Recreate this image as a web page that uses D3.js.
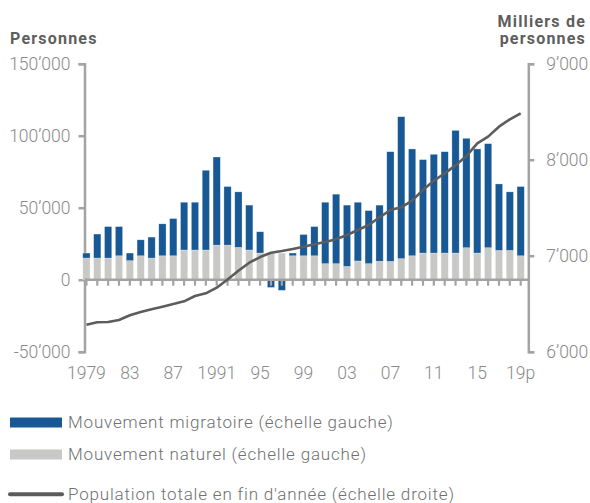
<!DOCTYPE html>
<html>
<head>
<meta charset="utf-8">
<script src="https://cdn.jsdelivr.net/npm/d3@7"></script>
<style>
  body { margin: 0; background: #fff; }
  text { font-family: Roboto, "Noto Sans", sans-serif; }
</style>
</head>
<body>
<div id="chart"></div>
<script>
// values (persons, population in thousands)
const years = d3.range(1979, 2020);
const natural = [15000, 15000, 15000, 16600, 13200, 16600, 15000, 16600, 16600, 20600,
  20600, 20600, 24000, 24000, 22400, 20600, 18500, 18900, 18500, 16600,
  16600, 16600, 11100, 11100, 9200, 13000, 11100, 12800, 12700, 14600,
  16600, 18500, 18500, 18500, 18500, 22200, 18500, 22200, 20300, 20300, 16600];
const migratory = [3500, 16700, 21900, 20300, 5300, 11100, 14600, 22200, 25900, 33200,
  33200, 55400, 61200, 40700, 38600, 31200, 14800, -5400, -7400, 1900,
  14800, 20300, 42700, 48300, 42600, 40800, 36900, 39000, 76200, 98600,
  74200, 64900, 68600, 70400, 85200, 76000, 72300, 72300, 46200, 40700, 48100];
const population = [6281, 6306, 6309, 6330, 6379, 6414, 6442, 6469, 6497, 6525,
  6580, 6608, 6667, 6752, 6844, 6927, 6986, 7031, 7049, 7070,
  7094, 7119, 7143, 7171, 7216, 7268, 7320, 7400, 7476, 7504,
  7573, 7684, 7781, 7858, 7941, 8038, 8170, 8240, 8344, 8420, 8483];
const xTickYears = [1979, 1983, 1987, 1991, 1995, 1999, 2003, 2007, 2011, 2015, 2019];
const xTickLabels = ["1979", "83", "87", "1991", "95", "99", "03", "07", "11", "15", "19p"];
const leftTicks = [-50000, 0, 50000, 100000, 150000];
const rightTicks = [6000, 7000, 8000, 9000];
const legendLabels = [
  "Mouvement migratoire (échelle gauche)",
  "Mouvement naturel (échelle gauche)",
  "Population totale en fin d'année (échelle droite)",
];

//////////CODE//////////
const svgObj = { width: 590, height: 503 };
const plotObj = { left: 84.5, right: 528.3, top: 63.7, bottom: 351.7 };
const colors = { migr: "#175895", nat: "#c8c8c7", line: "#5c5c5c", axis: "#a3a3a3", tick: "#8a8a8a", title: "#5e5e5e" };

const locale = d3.formatLocale({ decimal: ".", thousands: "’", grouping: [3], currency: ["", ""], minus: "-" });
const fmt = locale.format(",");

const rows = years.map((y, i) => ({ year: y, natural: natural[i], migratory: migratory[i] }));
const series = d3.stack().keys(["natural", "migratory"]).offset(d3.stackOffsetDiverging)(rows);

const x = d3.scaleBand().domain(years).range([79.2, 527.9]).padding(0.33);
const yLeft = d3.scaleLinear().domain([-50000, 150000]).range([plotObj.bottom, plotObj.top]);
const yRight = d3.scaleLinear().domain([6000, 9000]).range([plotObj.bottom, plotObj.top]);
const cx = (yr) => x(yr) + x.bandwidth() / 2;

const svg = d3.select("#chart").append("svg")
  .attr("width", svgObj.width)
  .attr("height", svgObj.height);

// titles
const addTitle = (tx, ty, anchor, label) =>
  svg.append("text").attr("x", tx).attr("y", ty).attr("text-anchor", anchor).text(label)
    .attr("font-weight", "bold").attr("font-size", 16).attr("letter-spacing", 1.2)
    .attr("fill", colors.title);
addTitle(10, 44, "start", "Personnes");
addTitle(586, 26.5, "end", "Milliers de");
addTitle(586, 43.5, "end", "personnes");

// left axis
const leftAxis = svg.append("g")
  .attr("transform", `translate(${plotObj.left},0)`)
  .call(d3.axisLeft(yLeft).tickValues(leftTicks).tickFormat(fmt).tickSize(6).tickPadding(8));

// right axis
const rightAxis = svg.append("g")
  .attr("transform", `translate(${plotObj.right},0)`)
  .call(d3.axisRight(yRight).tickValues(rightTicks).tickFormat(fmt).tickSize(6).tickPadding(12));

[leftAxis, rightAxis].forEach((g) => {
  g.select(".domain").attr("stroke", colors.axis).attr("stroke-width", 2.5);
  g.selectAll(".tick line").attr("stroke", colors.axis).attr("stroke-width", 2.5);
  g.selectAll(".tick text").attr("fill", colors.tick).attr("font-size", 17.5).attr("font-weight", 300);
});

// bars
svg.append("g").selectAll("g")
  .data(series)
  .join("g")
  .attr("fill", (d) => (d.key === "natural" ? colors.nat : colors.migr))
  .selectAll("rect")
  .data((d) => d)
  .join("rect")
  .attr("x", (d) => x(d.data.year))
  .attr("width", x.bandwidth())
  .attr("y", (d) => yLeft(Math.max(d[0], d[1])))
  .attr("height", (d) => Math.abs(yLeft(d[0]) - yLeft(d[1])))
  .attr("stroke", "#ffffff")
  .attr("stroke-opacity", 0.5)
  .attr("stroke-width", 0.6);

// zero line with year ticks
const xAxis = svg.append("g")
  .attr("transform", `translate(0,${yLeft(0)})`)
  .call(d3.axisBottom(x).tickSize(6).tickFormat(""));
xAxis.select(".domain").attr("d", `M${plotObj.left},0H${plotObj.right}`)
  .attr("stroke", colors.axis).attr("stroke-width", 2.5);
xAxis.selectAll(".tick line").attr("stroke", colors.axis).attr("stroke-width", 2.2);

// year labels
svg.append("g").selectAll("text")
  .data(xTickYears)
  .join("text")
  .attr("x", (d) => cx(d))
  .attr("y", 378.5)
  .attr("text-anchor", "middle")
  .attr("font-size", 17.5)
  .attr("font-weight", 300)
  .attr("fill", colors.tick)
  .text((d, i) => xTickLabels[i]);

// population line
svg.append("path")
  .datum(population)
  .attr("fill", "none")
  .attr("stroke", colors.line)
  .attr("stroke-width", 2.6)
  .attr("stroke-linejoin", "round")
  .attr("d", d3.line().x((d, i) => cx(years[i])).y((d) => yRight(d)));

// legend
const legend = svg.append("g");
legend.append("rect").attr("x", 10).attr("y", 417.5).attr("width", 52).attr("height", 10).attr("fill", colors.migr);
legend.append("rect").attr("x", 10).attr("y", 449.5).attr("width", 52).attr("height", 10).attr("fill", colors.nat);
legend.append("line").attr("x1", 10).attr("x2", 62).attr("y1", 494.3).attr("y2", 494.3)
  .attr("stroke", colors.line).attr("stroke-width", 4).attr("stroke-linecap", "round");

legend.selectAll("text")
  .data(legendLabels)
  .join("text")
  .attr("x", 68)
  .attr("y", (d, i) => [428, 460, 500][i])
  .attr("font-size", 17)
  .attr("font-weight", 300)
  .attr("letter-spacing", 0.82)
  .attr("fill", "#707070")
  .text((d) => d);
</script>
</body>
</html>
